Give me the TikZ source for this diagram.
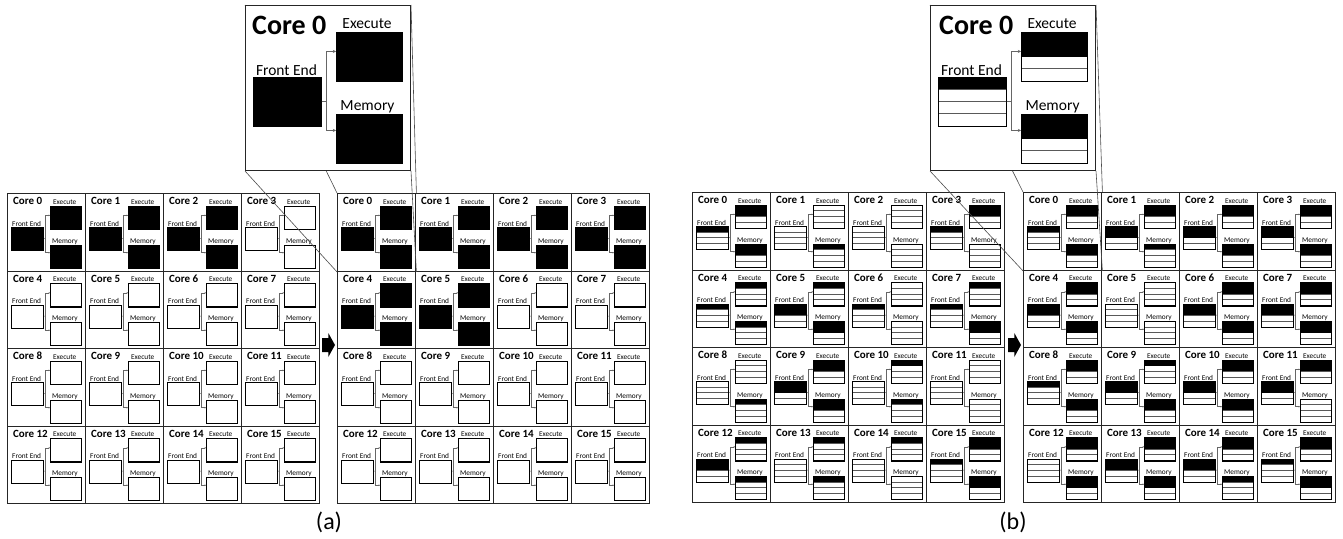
\documentclass[tikz,border=0pt]{standalone}
\usepackage{fontspec}
\setmainfont{Carlito}
\usetikzlibrary{arrows.meta}
\pgfdeclarelayer{front}
\pgfsetlayers{main,front}
\newif\ifrowlines
\newcommand\coreunit[6]{%
  \pgfmathsetmacro\ux{#2*\s}%
  \pgfmathsetmacro\uy{#3*\s}%
  \pgfmathsetmacro\uw{#4*\s}%
  \pgfmathsetmacro\uh{#5*\s}%
  \ifrowlines
    \foreach \r in {1,2,3}{\draw[rowline] (\ux,{\uy+\r*\uh/4}) -- ++(\uw,0);}
  \fi
  \ifnum#6>0 \fill[black] (\ux,\uy) rectangle ++(\uw,{#6*\uh/4});\fi
  \node[unitbox, minimum width=\uw pt, minimum height=\uh pt, anchor=north west] (-#1) at (\ux,\uy) {};
}
\tikzset{
  cs/.store in=\cs, cF/.store in=\cF, cE/.store in=\cE, cM/.store in=\cM,
  clabel/.store in=\clabel, cfont/.store in=\cfont, clx/.store in=\clx,
  cly/.store in=\cly, cbw/.store in=\cbw, rowlines/.is if=rowlines,
  cs=1, cF=0, cE=0, cM=0, clabel={}, cfont=11, clx=7, cly=20, cbw=1,
  unitbox/.style={draw=black, line width=\cbw pt, inner sep=0pt},
  rowline/.style={draw=black!65, line width=0.6pt},
  conn/.style={draw=black!60, line width=0.6pt},
  cellbox/.style={draw=black!85, line width=1.4pt, inner sep=0pt,
    minimum width=78pt, minimum height=77.5pt, anchor=north west},
  zoombox/.style={draw=black!85, fill=white, line width=1pt, inner sep=0pt,
    minimum width=165pt, minimum height=165pt, anchor=north west},
  zoomlink/.style={draw=black!70, line width=0.6pt},
  bigarrow/.style={fill=black},
  caption/.style={font=\fontsize{24}{24}\selectfont},
  pics/core/.style={code={
    \pgfmathsetmacro\s{\cs}%
    \pgfmathsetmacro\subfs{15.5*\s}%
    \pgfmathsetmacro\al{3.2*\s}%
    \coreunit{fe}{8}{72}{68}{49}{\cF}
    \coreunit{ex}{91}{27}{66}{49}{\cE}
    \coreunit{me}{91}{109}{66}{49}{\cM}
    \node[anchor=west, inner sep=0pt, font=\fontsize{\cfont}{\cfont}\selectfont\bfseries] (-lab) at ({\clx*\s},{\cly*\s}) {\clabel};
    \node[inner sep=0pt, font=\fontsize{\subfs}{\subfs}\selectfont] (-exl) at ({122*\s},{19*\s}) {Execute};
    \node[inner sep=0pt, font=\fontsize{\subfs}{\subfs}\selectfont] (-fel) at ({41.5*\s},{65*\s}) {Front End};
    \node[inner sep=0pt, font=\fontsize{\subfs}{\subfs}\selectfont] (-mel) at ({122.5*\s},{102*\s}) {Memory};
    \coordinate (-j) at ({81*\s},{96.5*\s});
    \draw[conn] (-fe) -- (-j);
    \draw[conn,-{Stealth[length=\al pt,width=\al pt]}] (-j) |- ([yshift={5.5*\s pt}]-ex.west);
    \draw[conn,-{Stealth[length=\al pt,width=\al pt]}] (-j) |- ([yshift={8.5*\s pt}]-me.west);
  }}
}
\newcommand\drawgrid[4]{%
  \foreach \i/\f/\e/\m in {#4}{
    \pgfmathtruncatemacro\col{mod(\i,4)}
    \pgfmathtruncatemacro\row{int(\i/4)}
    \node[cellbox] (#1\i) at ({#2+78*\col},{#3+77.5*\row}) {};
    \pic[cs=0.473, cF=\f, cE=\e, cM=\m, clabel={Core \i}, cfont=11, clx=12.5, cly=17, cbw=1.2] (#1p\i) at (#1\i.north west) {core};
  }
}
\begin{document}
\begin{tikzpicture}[x=1pt,y=-1pt]
\useasboundingbox (0,0) rectangle (1343,538);
% ---------- panel (a)
\begin{scope}[rowlines=false]
\drawgrid{aL}{7}{193}{0/4/4/4,1/4/4/4,2/4/4/4,3/0/0/0,4/0/0/0,5/0/0/0,6/0/0/0,7/0/0/0,8/0/0/0,9/0/0/0,10/0/0/0,11/0/0/0,12/0/0/0,13/0/0/0,14/0/0/0,15/0/0/0}
\drawgrid{aR}{337}{193}{0/4/4/4,1/4/4/4,2/4/4/4,3/4/4/4,4/4/4/4,5/4/4/4,6/0/0/0,7/0/0/0,8/0/0/0,9/0/0/0,10/0/0/0,11/0/0/0,12/0/0/0,13/0/0/0,14/0/0/0,15/0/0/0}
\begin{pgfonlayer}{front}
\node[zoombox] (zA) at (245,5) {};
\pic[cs=1, cF=4, cE=4, cM=4, clabel={Core 0}, cfont=28, clx=7, cly=20, cbw=0.8] (zAp) at (zA.north west) {core};
\end{pgfonlayer}
\end{scope}
\draw[zoomlink] (zA.north west) -- (aR0.north west);
\draw[zoomlink] (zA.north east) -- (aR0.north east);
\draw[zoomlink] (zA.south west) -- (aR0.south west);
\draw[zoomlink] (zA.south east) -- (aR0.south east);
\fill[bigarrow] (322,338) -- (328.3,338) -- (328.3,333) -- (335,345) -- (328.3,357) -- (328.3,352) -- (322,352) -- cycle;
\node[caption] (capA) at (329,522) {(a)};
% ---------- panel (b)
\begin{scope}[rowlines=true]
\drawgrid{bL}{692}{192}{0/1/2/2,1/0/0/1,2/0/0/0,3/1/2/0,4/1/1/1,5/2/1/2,6/1/0/0,7/1/1/2,8/0/0/1,9/2/2/2,10/0/1/1,11/0/0/0,12/2/1/1,13/0/1/1,14/0/1/0,15/1/2/2}
\drawgrid{bR}{1023}{192}{0/1/2/2,1/2/2/1,2/2/2/2,3/2/2/2,4/2/2/2,5/0/0/0,6/2/2/2,7/2/2/2,8/1/2/2,9/2/1/2,10/2/2/2,11/2/2/0,12/0/2/2,13/2/2/2,14/2/2/1,15/1/2/2}
\begin{pgfonlayer}{front}
\node[zoombox] (zB) at (930,5) {};
\pic[cs=1, cF=1, cE=2, cM=2, clabel={Core 0}, cfont=28, clx=9, cly=20, cbw=0.8] (zBp) at (zB.north west) {core};
\end{pgfonlayer}
\end{scope}
\draw[zoomlink] (zB.north west) -- (bR0.north west);
\draw[zoomlink] (zB.north east) -- (bR0.north east);
\draw[zoomlink] (zB.south west) -- (bR0.south west);
\draw[zoomlink] (zB.south east) -- (bR0.south east);
\fill[bigarrow] (1008,338) -- (1014.3,338) -- (1014.3,333) -- (1021,345) -- (1014.3,357) -- (1014.3,352) -- (1008,352) -- cycle;
\node[caption] (capB) at (1013,522) {(b)};
\end{tikzpicture}
\end{document}
